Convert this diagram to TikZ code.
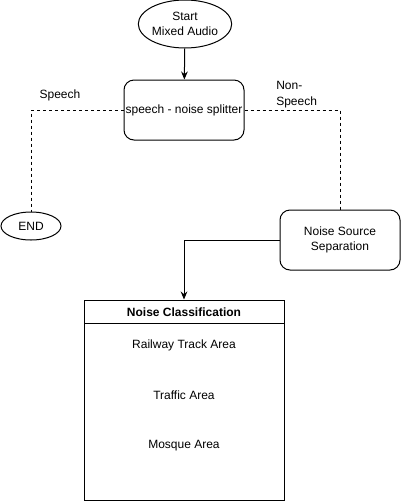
\documentclass[tikz,border=0pt]{standalone}
\usepackage{fontspec}
\setmainfont{Liberation Sans}
\usetikzlibrary{shapes.geometric,arrows.meta}
\begin{document}
\begin{tikzpicture}[x=0.75pt,y=-0.75pt,
  every node/.style={font=\fontsize{9}{11.5}\selectfont},
  ln/.style={line width=0.75pt},
  arr/.style={ln,-{Stealth[length=6pt,width=5pt]}},
  dsh/.style={line width=0.75pt,dash pattern=on 2.25pt off 2.25pt},
  ell/.style={ellipse,draw,line width=0.75pt,inner sep=0pt,align=center},
  rbox/.style={draw,line width=0.75pt,rounded corners=7.5pt,inner sep=0pt,align=center}]
\useasboundingbox (0,0) rectangle (401,501);
\node[ell,minimum width=67.5pt,minimum height=36pt] (start) at (185,24) {Start\\Mixed Audio};
\node[rbox,minimum width=90pt,minimum height=45pt] (split) at (184,110) {speech - noise splitter};
\node[ell,minimum width=45pt,minimum height=21pt] (end) at (31,226) {END};
\node[rbox,minimum width=90pt,minimum height=45pt] (nss) at (340,240) {Noise Source\\Separation};
\node[draw,line width=0.75pt,minimum width=150pt,minimum height=150pt,inner sep=0pt] (cls) at (184,400) {};
\coordinate (hl) at (84,323);
\coordinate (hr) at (284,323);
\draw[ln] (hl) -- (hr);
\node[font=\fontsize{9}{11.5}\selectfont\bfseries] (title) at (184,312) {Noise Classification};
\node (rail) at (184,345) {Railway Track Area};
\node (traf) at (184,395) {Traffic Area};
\node (mosq) at (184,446) {Mosque Area};
\node (lsp) at (60,95) {Speech};
\node[align=left,anchor=west,inner sep=0pt,font=\fontsize{9}{12}\selectfont] (lns) at (276,95) {Non-\\Speech};
\draw[arr] (start) -- (split);
\draw[dsh] (split.west) -| (end.north);
\draw[dsh] (split.east) -| (nss.north);
\draw[arr] (nss.west) -| (cls.north);
\end{tikzpicture}
\end{document}
